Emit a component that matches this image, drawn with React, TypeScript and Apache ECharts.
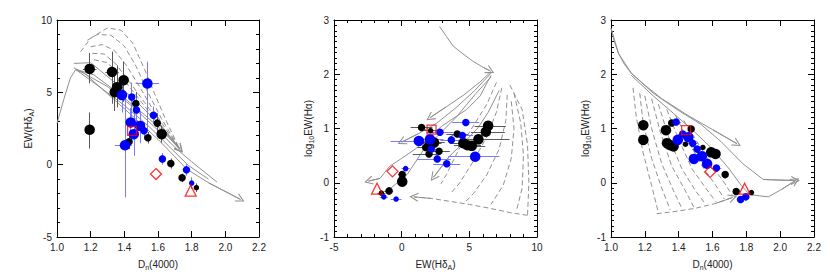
import { useEffect, useRef } from "react";
import * as echarts from "echarts";

// ---------- data: [x, y, massBin, xErrLo, xErrHi, yErrLo, yErrHi] ----------
const p1Black = [
  [1.194, 6.62, 3, 0.04, 0.04, 1.0, 1.1],
  [1.194, 2.41, 3, 0.01, 0.01, 1.3, 1.2],
  [1.327, 6.41, 3, 0.04, 0.04, 2.2, 1.4],
  [1.396, 5.84, 3, 0.02, 0.02, 1.5, 1.3],
  [1.357, 5.36, 3, 0.02, 0.02, 1.4, 1.5],
  [1.343, 5.01, 3, 0.02, 0.02, 1.3, 1.4],
  [1.468, 4.22, 2, 0.02, 0.02, 0.9, 0.8],
  [1.596, 2.87, 2, 0.02, 0.02, 0.7, 0.7],
  [1.622, 2.11, 3, 0.02, 0.02, 0.6, 0.6],
  [1.54, 1.86, 2, 0.01, 0.01, 0.4, 0.4],
  [1.428, 1.58, 2, 0.01, 0.01, 0.5, 0.5],
  [1.676, 0.08, 2, 0.01, 0.01, 0.35, 0.35],
  [1.743, -0.91, 2, 0.01, 0.01, 0.3, 0.3],
  [1.828, -1.59, 1, 0.01, 0.01, 0.3, 0.3],
];
const p1Blue = [
  [1.537, 5.61, 3, 0.07, 0.07, 3.3, 1.5],
  [1.386, 4.81, 3, 0.02, 0.02, 1.2, 1.0],
  [1.444, 4.67, 2, 0.01, 0.01, 1.4, 1.0],
  [1.472, 3.78, 2, 0.01, 0.01, 1.0, 0.8],
  [1.573, 3.42, 2, 0.02, 0.02, 0.6, 0.6],
  [1.438, 2.92, 3, 0.02, 0.02, 1.0, 1.0],
  [1.493, 2.68, 3, 0.02, 0.02, 1.2, 1.0],
  [1.517, 2.34, 2, 0.01, 0.01, 0.6, 0.6],
  [1.456, 2.11, 3, 0.02, 0.02, 1.5, 1.5],
  [1.404, 1.34, 3, 0.06, 0.04, 3.6, 3.4],
  [1.626, 0.4, 2, 0.01, 0.01, 0.4, 0.4],
  [1.769, -0.36, 2, 0.01, 0.01, 0.4, 0.4],
  [1.8, -1.27, 1, 0.01, 0.01, 0.4, 0.4],
];
const p1Red = { square: [1.446, 2.34], diamond: [1.588, -0.65], triangle: [1.794, -1.8] };

const p2Black = [
  [1.47, 1.02, 2, 0.8, 0.8, 0.02, 0.02],
  [2.14, 0.96, 1, 0.5, 0.5, 0.02, 0.02],
  [6.39, 1.05, 3, 1.0, 1.3, 0.02, 0.02],
  [6.22, 0.94, 3, 1.1, 1.4, 0.02, 0.02],
  [4.11, 0.9, 2, 0.8, 0.8, 0.02, 0.02],
  [2.39, 0.74, 3, 0.8, 0.8, 0.02, 0.02],
  [2.14, 0.73, 3, 0.8, 0.8, 0.02, 0.02],
  [1.77, 0.65, 2, 0.6, 0.6, 0.02, 0.02],
  [2.76, 0.58, 2, 0.8, 0.8, 0.02, 0.02],
  [2.02, 0.53, 2, 1.2, 0.6, 0.02, 0.02],
  [4.56, 0.73, 3, 1.0, 1.0, 0.02, 0.02],
  [4.86, 0.69, 3, 1.0, 1.0, 0.02, 0.02],
  [5.18, 0.68, 3, 1.0, 1.0, 0.02, 0.02],
  [5.67, 0.8, 3, 1.2, 2.3, 0.02, 0.02],
  [0.04, 0.15, 2, 0.3, 0.3, 0.02, 0.02],
  [0.04, 0.02, 3, 0.3, 0.3, 0.02, 0.02],
  [-0.93, -0.15, 2, 0.3, 0.3, 0.02, 0.02],
  [-1.5, -0.19, 1, 0.3, 0.3, 0.02, 0.02],
];
const p2Blue = [
  [4.74, 1.11, 2, 1.0, 1.0, 0.02, 0.02],
  [2.83, 0.93, 2, 1.0, 1.0, 0.02, 0.02],
  [2.09, 0.8, 3, 1.0, 1.0, 0.02, 0.02],
  [1.27, 0.77, 3, 2.1, 0.8, 0.02, 0.02],
  [3.67, 0.79, 2, 0.8, 0.8, 0.02, 0.02],
  [4.48, 0.87, 2, 0.8, 0.8, 0.02, 0.02],
  [2.19, 0.62, 2, 0.6, 0.6, 0.02, 0.02],
  [2.63, 0.44, 2, 1.5, 1.0, 0.02, 0.02],
  [3.33, 0.35, 2, 1.0, 1.0, 0.02, 0.02],
  [5.43, 0.48, 3, 2.0, 1.8, 0.02, 0.02],
  [0.29, 0.26, 1, 0.3, 0.3, 0.02, 0.02],
  [-1.32, -0.26, 1, 0.3, 0.3, 0.02, 0.02],
  [-0.41, -0.3, 1, 0.4, 0.4, 0.02, 0.02],
];
const p2Red = { square: [2.21, 0.98], diamond: [-0.68, 0.21], triangle: [-1.82, -0.11] };

const p3Black = [
  [1.191, 1.06, 3, 0.01, 0.01, 0.02, 0.02],
  [1.191, 0.79, 3, 0.01, 0.01, 0.02, 0.02],
  [1.325, 0.97, 3, 0.01, 0.01, 0.02, 0.02],
  [1.331, 0.73, 3, 0.01, 0.01, 0.02, 0.02],
  [1.351, 0.69, 3, 0.01, 0.01, 0.02, 0.02],
  [1.37, 0.67, 3, 0.01, 0.01, 0.02, 0.02],
  [1.359, 1.1, 2, 0.01, 0.01, 0.02, 0.02],
  [1.474, 0.99, 2, 0.01, 0.01, 0.02, 0.02],
  [1.44, 0.71, 1, 0.01, 0.01, 0.02, 0.02],
  [1.543, 0.65, 1, 0.01, 0.01, 0.02, 0.02],
  [1.592, 0.56, 3, 0.01, 0.01, 0.02, 0.02],
  [1.618, 0.53, 3, 0.01, 0.01, 0.02, 0.02],
  [1.675, 0.15, 2, 0.01, 0.01, 0.02, 0.02],
  [1.74, -0.16, 2, 0.01, 0.01, 0.02, 0.02],
  [1.83, -0.18, 1, 0.01, 0.01, 0.02, 0.02],
];
const p3Blue = [
  [1.385, 1.12, 2, 0.03, 0.03, 0.02, 0.02],
  [1.395, 0.79, 3, 0.03, 0.03, 0.02, 0.02],
  [1.424, 0.9, 2, 0.03, 0.03, 0.02, 0.02],
  [1.457, 0.84, 3, 0.03, 0.03, 0.02, 0.02],
  [1.483, 0.73, 2, 0.03, 0.03, 0.02, 0.02],
  [1.509, 0.62, 2, 0.03, 0.03, 0.02, 0.02],
  [1.49, 0.44, 3, 0.03, 0.03, 0.02, 0.02],
  [1.537, 0.49, 3, 0.03, 0.03, 0.02, 0.02],
  [1.568, 0.35, 3, 0.03, 0.03, 0.02, 0.02],
  [1.623, 0.27, 2, 0.03, 0.03, 0.02, 0.02],
  [1.766, -0.31, 2, 0.02, 0.02, 0.02, 0.02],
  [1.797, -0.26, 2, 0.02, 0.02, 0.02, 0.02],
];
const p3Red = { square: [1.444, 0.97], diamond: [1.586, 0.2], triangle: [1.79, -0.11] };

// ---------- model tracks ----------
const p1TracksArrow = [
  [[1.0, 2.85], [1.04, 4.5], [1.08, 6.0], [1.11, 6.55], [1.16, 6.35], [1.3, 4.9], [1.45, 3.35], [1.6, 1.75], [1.7, 0.55], [1.77, -0.3], [1.9, -1.25], [2.09, -2.4]],
  [[1.11, 6.6], [1.22, 6.2], [1.37, 4.9], [1.52, 3.45], [1.64, 2.2], [1.73, 1.05]],
  [[1.1, 7.0], [1.2, 7.05], [1.32, 5.9], [1.46, 4.5], [1.6, 2.9], [1.73, 1.1]],
];
const p1TracksPlain = [
  [[1.12, 6.5], [1.25, 5.4], [1.4, 4.1], [1.55, 2.6], [1.68, 1.1], [1.78, -0.05], [1.9, -1.0]],
  [[1.1, 6.7], [1.3, 5.4], [1.45, 4.0], [1.58, 2.6], [1.7, 1.2], [1.8, 0.2], [1.95, -1.2]],
];
const p1Dashed = [
  [[1.14, 7.8], [1.2, 8.75], [1.3, 9.45], [1.38, 9.3], [1.45, 8.4], [1.52, 6.6], [1.58, 4.9], [1.65, 3.0], [1.73, 1.05]],
  [[1.18, 8.6], [1.24, 9.0], [1.32, 8.95], [1.4, 8.2], [1.47, 6.8], [1.54, 5.0], [1.62, 3.2], [1.73, 1.05]],
  [[1.2, 8.15], [1.27, 8.3], [1.34, 7.9], [1.41, 6.9], [1.49, 5.4], [1.57, 3.8], [1.65, 2.4], [1.73, 1.1]],
  [[1.21, 7.7], [1.28, 7.65], [1.35, 6.95], [1.43, 5.75], [1.52, 4.3], [1.62, 2.7], [1.73, 1.1]],
  [[1.22, 7.25], [1.3, 7.05], [1.38, 6.1], [1.47, 4.8], [1.57, 3.3], [1.73, 1.1]],
];

const p2TracksArrow = [
  [[2.8, 2.88], [3.3, 2.7], [3.8, 2.52], [4.3, 2.42], [5.2, 2.25], [6.0, 2.13], [6.55, 2.06]],
  [[6.6, 2.05], [5.8, 1.86], [4.6, 1.62], [3.3, 1.4], [2.1, 1.2]],
  [[6.6, 2.02], [5.4, 1.7], [4.0, 1.38], [2.6, 1.1], [1.2, 0.9], [0.0, 0.75]],
  [[6.6, 1.98], [5.8, 1.6], [4.8, 1.35], [3.0, 1.05], [1.0, 0.62], [0.0, 0.45], [-0.9, 0.3], [-1.6, 0.08], [-2.45, 0.03]],
  [[7.2, 1.7], [6.4, 1.3], [5.6, 1.0], [4.6, 0.74], [3.57, 0.5], [2.35, 0.1]],
];
const p2TracksPlain = [
  [[6.6, 1.95], [5.5, 1.65], [4.0, 1.2], [3.0, 0.95], [1.6, 0.6], [0.4, 0.15], [-0.8, -0.1], [-1.7, -0.22]],
];
const p2Dashed = [
  [[7.0, 1.85], [6.3, 1.45], [5.3, 1.05], [4.2, 0.6], [3.3, 0.15], [2.9, -0.02]],
  [[7.4, 1.75], [7.0, 1.3], [6.3, 0.85], [5.3, 0.4], [4.3, 0.0], [3.6, -0.2]],
  [[7.8, 1.62], [7.7, 1.15], [7.2, 0.62], [6.3, 0.15], [5.3, -0.2], [4.6, -0.38]],
  [[8.1, 1.5], [8.3, 1.0], [8.1, 0.45], [7.5, -0.05], [6.6, -0.4]],
  [[8.3, 1.65], [8.8, 1.1], [9.0, 0.5], [8.9, -0.1], [8.5, -0.5]],
  [[8.0, 1.8], [8.9, 1.35], [9.3, 0.7], [9.4, 0.0], [9.3, -0.6]],
];
const p2DashedArrow = [
  [[9.3, -0.6], [8.0, -0.55], [6.5, -0.47], [5.0, -0.4], [3.5, -0.34], [2.2, -0.29], [0.9, -0.26]],
];

const p3TracksArrow = [
  [[1.0, 2.85], [1.02, 2.6], [1.045, 2.38], [1.08, 2.18], [1.12, 2.02], [1.2, 1.8], [1.3, 1.55], [1.45, 1.25], [1.6, 0.98], [1.745, 0.72]],
  [[1.0, 2.85], [1.045, 2.38], [1.12, 2.02], [1.25, 1.65], [1.4, 1.33], [1.53, 1.08], [1.65, 0.76], [1.78, 0.35], [1.9, 0.06], [2.09, 0.04]],
  [[1.12, 1.98], [1.25, 1.6], [1.38, 1.25], [1.5, 0.92], [1.6, 0.62], [1.7, 0.25], [1.77, -0.05], [1.82, -0.22], [1.93, -0.26], [2.01, -0.12], [2.09, 0.04]],
];
const p3TracksPlain: number[][][] = [];
const p3Dashed = [
  [[1.13, 1.75], [1.15, 1.2], [1.19, 0.55], [1.24, -0.05], [1.28, -0.55]],
  [[1.17, 1.65], [1.19, 1.1], [1.24, 0.45], [1.3, -0.1], [1.35, -0.5]],
  [[1.2, 1.6], [1.24, 1.0], [1.3, 0.35], [1.37, -0.15], [1.42, -0.48]],
  [[1.24, 1.55], [1.29, 0.95], [1.36, 0.3], [1.44, -0.15], [1.49, -0.45]],
  [[1.28, 1.45], [1.34, 0.85], [1.42, 0.25], [1.5, -0.15], [1.56, -0.4]],
  [[1.33, 1.35], [1.4, 0.8], [1.48, 0.25], [1.56, -0.1], [1.62, -0.35]],
  [[1.38, 1.25], [1.46, 0.75], [1.54, 0.3], [1.62, -0.05], [1.67, -0.3]],
  [[1.43, 1.15], [1.52, 0.7], [1.6, 0.3], [1.67, 0.0], [1.72, -0.25]],
];
const p3DashedArrow = [
  [[1.27, -0.57], [1.4, -0.52], [1.5, -0.47], [1.62, -0.38], [1.72, -0.27]],
];

// ---------- styling ----------
const FONT = '"Liberation Sans", Arial, Helvetica, sans-serif';
const BIN_SIZE: Record<number, number> = { 1: 5.5, 2: 7.5, 3: 10.5 };
const TRACK = "#909090";
const ARROW = "path://M5 0 L10 10 L8.9 10.5 L5 2.6 L1.1 10.5 L0 10 Z";

const GRIDS = [
  { left: 57, top: 20, width: 202, height: 219 },
  { left: 334, top: 20, width: 203, height: 219 },
  { left: 611, top: 20, width: 203, height: 219 },
];

const nameStyle = {
  fontSize: 10,
  color: "#222",
  fontFamily: FONT,
  lineHeight: 14,
  rich: { s: { fontSize: 7, lineHeight: 8, verticalAlign: "bottom", color: "#222", fontFamily: FONT } },
};

function axisPair(kind: "x" | "y", gi: number, min: number, max: number, interval: number, minor: number, name: string, gap: number, digits: number) {
  const common = {
    type: "value",
    gridIndex: gi,
    min,
    max,
    interval,
    axisLine: { onZero: false, lineStyle: { color: "#000", width: 1 } },
    axisTick: { inside: true, length: 6, lineStyle: { color: "#000", width: 1 } },
    minorTick: { show: minor > 0, splitNumber: minor || 5, length: 3, lineStyle: { color: "#000", width: 1 } },
    splitLine: { show: false },
    minorSplitLine: { show: false },
  };
  const main = {
    ...common,
    position: kind === "x" ? "bottom" : "left",
    name,
    nameLocation: "middle",
    nameGap: gap,
    nameTextStyle: nameStyle,
    axisLabel: {
      fontSize: 10,
      color: "#222",
      fontFamily: FONT,
      margin: 5,
      formatter: (v: number) => v.toFixed(digits),
    },
  };
  const mirror = {
    ...common,
    position: kind === "x" ? "top" : "right",
    axisLabel: { show: false },
  };
  return [main, mirror];
}

function trackSeries(gi: number, tracks: number[][][], dashed: boolean) {
  return {
    type: "lines",
    coordinateSystem: "cartesian2d",
    xAxisIndex: gi * 2,
    yAxisIndex: gi * 2,
    polyline: true,
    silent: true,
    lineStyle: { color: TRACK, width: 1, type: dashed ? [5, 3] : "solid", opacity: 1 },
    data: tracks.map((t) => ({ coords: t })),
    z: 1,
  };
}

// arrowhead drawn on the last segment of each track
function arrowSeries(gi: number, tracks: number[][][]) {
  return {
    type: "lines",
    coordinateSystem: "cartesian2d",
    xAxisIndex: gi * 2,
    yAxisIndex: gi * 2,
    silent: true,
    symbol: ["none", ARROW],
    symbolSize: 9,
    lineStyle: { color: TRACK, width: 1, opacity: 1 },
    data: tracks.map((t) => ({ coords: [t[t.length - 2], t[t.length - 1]] })),
    z: 1,
  };
}

function errSeries(gi: number, pts: number[][], color: string) {
  const segs: any[] = [];
  pts.forEach((p) => {
    segs.push({ coords: [[p[0] - p[3], p[1]], [p[0] + p[4], p[1]]] });
    segs.push({ coords: [[p[0], p[1] - p[5]], [p[0], p[1] + p[6]]] });
  });
  return {
    type: "lines",
    coordinateSystem: "cartesian2d",
    xAxisIndex: gi * 2,
    yAxisIndex: gi * 2,
    silent: true,
    symbol: "none",
    lineStyle: { color, width: 1, opacity: 1 },
    data: segs,
    z: 2,
  };
}

function ptSeries(gi: number, pts: number[][], color: string) {
  return {
    type: "scatter",
    xAxisIndex: gi * 2,
    yAxisIndex: gi * 2,
    silent: true,
    symbol: "circle",
    symbolSize: (v: number[]) => BIN_SIZE[v[2]],
    itemStyle: { color, opacity: 1 },
    data: pts.map((p) => [p[0], p[1], p[2]]),
    z: 3,
  };
}

function redSeries(gi: number, red: { square: number[]; diamond: number[]; triangle: number[] }) {
  const base = {
    type: "scatter",
    xAxisIndex: gi * 2,
    yAxisIndex: gi * 2,
    silent: true,
    itemStyle: { color: "rgba(255,255,255,0)", borderColor: "#ff0000", borderWidth: 1.3 },
    z: 4,
  };
  return [
    { ...base, symbol: "rect", symbolSize: 9, data: [red.square] },
    { ...base, symbol: "diamond", symbolSize: 11, data: [red.diamond] },
    { ...base, symbol: "triangle", symbolSize: 11, data: [red.triangle] },
  ];
}

function panelSeries(gi: number, arrowT: number[][][], plainT: number[][][], dashedT: number[][][], dashedArrowT: number[][][], black: number[][], blue: number[][], red: any) {
  return [
    trackSeries(gi, dashedT, true),
    trackSeries(gi, dashedArrowT, true),
    arrowSeries(gi, dashedArrowT),
    trackSeries(gi, plainT, false),
    trackSeries(gi, arrowT, false),
    arrowSeries(gi, arrowT),
    errSeries(gi, black, "#5a5a5a"),
    errSeries(gi, blue, "#7b7bff"),
    ptSeries(gi, black, "#000000"),
    ptSeries(gi, blue, "#0000ff"),
    ...redSeries(gi, red),
  ];
}

export default function App() {
  const ref = useRef<HTMLDivElement>(null);
  useEffect(() => {
    if (!ref.current) return;
    const chart = echarts.init(ref.current, undefined, { renderer: "svg" });
    const xAxis = [
      ...axisPair("x", 0, 1.0, 2.2, 0.2, 0, "D{s|n}(4000)", 20, 1),
      ...axisPair("x", 1, -5, 10, 5, 5, "EW(Hδ{s|A})", 20, 0),
      ...axisPair("x", 2, 1.0, 2.2, 0.2, 0, "D{s|n}(4000)", 20, 1),
    ];
    const yAxis = [
      ...axisPair("y", 0, -5, 10, 5, 5, "EW(Hδ{s|A})", 22, 0),
      ...axisPair("y", 1, -1, 3, 1, 10, "log{s|10}EW(Hα)", 19, 0),
      ...axisPair("y", 2, -1, 3, 1, 10, "log{s|10}EW(Hα)", 19, 0),
    ];
    const series = [
      ...panelSeries(0, p1TracksArrow, p1TracksPlain, p1Dashed, [], p1Black, p1Blue, p1Red),
      ...panelSeries(1, p2TracksArrow, p2TracksPlain, p2Dashed, p2DashedArrow, p2Black, p2Blue, p2Red),
      ...panelSeries(2, p3TracksArrow, p3TracksPlain, p3Dashed, p3DashedArrow, p3Black, p3Blue, p3Red),
    ];
    chart.setOption({
      animation: false,
      backgroundColor: "#ffffff",
      grid: GRIDS,
      xAxis,
      yAxis,
      series,
    } as any);
    return () => chart.dispose();
  }, []);
  return (
    <div
      ref={ref}
      style={{ position: "absolute", left: 0, top: 0, width: 830, height: 276 }}
    />
  );
}
